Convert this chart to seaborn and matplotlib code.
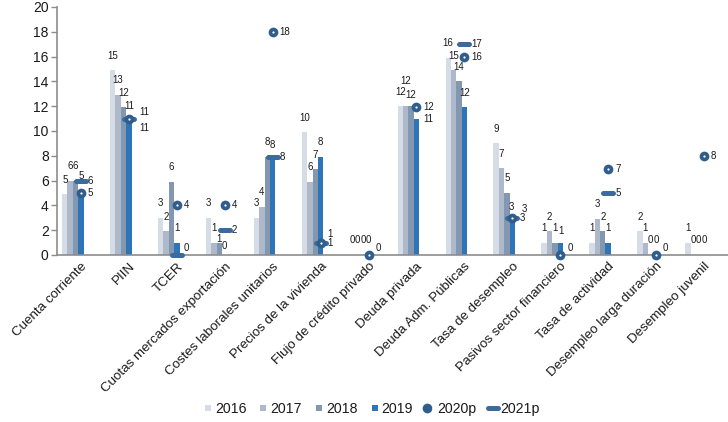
import numpy as np
import pandas as pd
import seaborn as sns
import matplotlib
matplotlib.use("Agg")
import matplotlib.pyplot as plt
from matplotlib.lines import Line2D
from matplotlib.markers import MarkerStyle
from matplotlib.legend_handler import HandlerTuple

categories = ["Cuenta corriente", "PIIN", "TCER", "Cuotas mercados exportación",
              "Costes laborales unitarios", "Precios de la vivienda",
              "Flujo de crédito privado", "Deuda privada", "Deuda Adm. Públicas",
              "Tasa de desempleo", "Pasivos sector financiero", "Tasa de actividad",
              "Desempleo larga duración", "Desempleo juvenil"]
nan = np.nan
v2016 = [4.9, 14.9, 3.0, 3.0, 3.0, 9.9, 0, 12.0, 15.9, 9.0, 1.0, 1.0, 1.9, 1.0]
v2017 = [6.0, 12.9, 1.9, 1.0, 3.9, 5.9, 0, 12.0, 14.9, 7.0, 1.9, 2.9, 1.0, 0]
v2018 = [6.0, 11.9, 5.9, 1.0, 7.9, 6.9, 0, 12.0, 14.0, 5.0, 1.0, 1.9, 0, 0]
v2019 = [5.2, 10.8, 1.0, 0, 7.7, 7.9, 0, 11.0, 11.9, 2.7, 1.0, 1.0, 0, 0]
v2020p = [5.0, 11.0, 4.0, 4.0, 18.0, 1.0, 0, 11.9, 16.0, 3.0, 0, 6.9, 0, 8.0]
v2021p = [6.0, 11.0, 0, 2.0, 7.9, 1.0, nan, nan, 17.0, 3.0, nan, 5.0, nan, nan]
bar_years = ["2016", "2017", "2018", "2019"]
line_years = ["2020p", "2021p"]
y_ticks = [0, 2, 4, 6, 8, 10, 12, 14, 16, 18, 20]

# small label nudges (pixels, +y = up) to mimic the reference's label arrangement
label_nudge = {
    ("Deuda privada", "2017"): (0, 11),
    ("Deuda privada", "2018"): (0, -3),
    ("Deuda privada", "2019"): (12, -15),
    ("Cuotas mercados exportación", "2018"): (0, -11),
    ("Cuotas mercados exportación", "2019"): (0, -6),
    ("PIIN", "2020p"): (3, -2),
    ("PIIN", "2021p"): (3, -9),
    ("Pasivos sector financiero", "2019"): (1, -3),
    ("Tasa de desempleo", "2019"): (-1, 0),
    ("Tasa de desempleo", "2020p"): (2, 0),
}

bar_colors = ["#D6DCE5", "#ADB9CA", "#8497B0", "#2E75B6"]
c20 = "#2F5D8C"
c21 = "#3A6A9E"
txt = "#1a1a1a"
spine_c = "#8C8C8C"
PX = 0.72  # points per pixel at dpi 100

sns.set_theme(style="white")
plt.rcParams["font.family"] = ["Liberation Sans", "DejaVu Sans"]

slots = bar_years + ["_s1", "_s2", "_s3"]
rows = []
for yr, vals in zip(bar_years, [v2016, v2017, v2018, v2019]):
    for c, v in zip(categories, vals):
        rows.append((c, yr, v))
df = pd.DataFrame(rows, columns=["cat", "year", "value"])

fig = plt.figure(figsize=(7.28, 4.22), dpi=100)
ax = fig.add_axes([57 / 728, 1 - 255 / 422, 671 / 728, 248 / 422])

sns.barplot(data=df, x="cat", y="value", hue="year", hue_order=slots, order=categories,
            palette=bar_colors + ["white"] * 3, width=0.7875, dodge=True,
            errorbar=None, legend=False, saturation=1, linewidth=0, ax=ax, zorder=2)

# bar labels
for yr, cont in zip(bar_years, ax.containers):
    for ci, bar in enumerate(cont):
        h = bar.get_height()
        if np.isnan(h):
            continue
        nx, ny = label_nudge.get((categories[ci], yr), (0, 0))
        ax.annotate(f"{h:.0f}", (bar.get_x() + bar.get_width() / 2, h),
                    xytext=(nx * PX, 10.5 + ny * PX), textcoords="offset points",
                    ha="center", va="center", fontsize=7, color=txt, zorder=7)

xs = np.arange(len(categories))
a20 = np.array(v2020p, dtype=float)
a21 = np.array(v2021p, dtype=float)
dash = MarkerStyle("_", capstyle="round")
ax.plot(xs, a21, ls="none", marker=dash, ms=6.5, mew=3.6, color=c21, zorder=4, clip_on=False)
ax.plot(xs, a20, ls="none", marker="o", ms=7, mew=0, color=c20, zorder=5, clip_on=False)
ax.plot(xs, a20, ls="none", marker="o", ms=1.6, mew=0, color="white", zorder=6, clip_on=False)

for i in range(len(categories)):
    p, q = a20[i], a21[i]
    same = (not np.isnan(p)) and (not np.isnan(q)) and abs(p - q) < 0.5
    if not np.isnan(p):
        dy = 9 if same else (7 if p == 0 else 0)
        nx, ny = label_nudge.get((categories[i], "2020p"), (0, 0))
        ax.annotate(f"{p:.0f}", (i, p), xytext=((7 + nx) * PX, (dy + ny) * PX),
                    textcoords="offset points", ha="left", va="center",
                    fontsize=7, color=txt, zorder=7)
    if not np.isnan(q):
        dy = 7 if q == 0 else 0
        nx, ny = label_nudge.get((categories[i], "2021p"), (0, 0))
        ax.annotate(f"{q:.0f}", (i, q), xytext=((7 + nx) * PX, (dy + ny) * PX),
                    textcoords="offset points", ha="left", va="center",
                    fontsize=7, color=txt, zorder=7)

ax.set_ylim(0, 20)
ax.set_xlim(-0.5, len(categories) - 0.5)
ax.set_yticks(y_ticks)
ax.set_yticklabels([str(t) for t in y_ticks], fontsize=10, color=txt)
ax.set_xticks(xs)
ax.set_xticklabels(categories, rotation=45, ha="right", rotation_mode="anchor",
                   fontsize=9.6, color=txt)
ax.set_xticks(np.arange(len(categories) + 1) - 0.5, minor=True)
ax.tick_params(axis="x", which="major", length=0, pad=4)
ax.tick_params(axis="x", which="minor", length=4, width=1, color=spine_c, direction="out")
ax.tick_params(axis="y", length=4, width=1, color=spine_c, direction="out", pad=2, left=True)
ax.set_xlabel("")
ax.set_ylabel("")
for s in ["top", "right"]:
    ax.spines[s].set_visible(False)
for s in ["left", "bottom"]:
    ax.spines[s].set_color(spine_c)
    ax.spines[s].set_linewidth(1.2)

handles = [Line2D([], [], ls="none", marker="s", ms=3.8, mew=0, color=c) for c in bar_colors]
h20 = (Line2D([], [], ls="none", marker="o", ms=7, mew=0, color=c20),
       Line2D([], [], ls="none", marker="o", ms=1.6, mew=0, color="white"))
h21 = Line2D([], [], ls="none", marker=dash, ms=6.5, mew=3.6, color=c21)
handles += [h20, h21]
labels = bar_years + line_years
fig.legend(handles, labels, ncol=6, loc="center", bbox_to_anchor=(371 / 728, 1 - 409 / 422),
           frameon=False, handlelength=0.8, handletextpad=0.1, columnspacing=0.8,
           fontsize=10.2, labelcolor=txt,
           handler_map={tuple: HandlerTuple(ndivide=None, pad=0)})

fig.savefig("out.png", dpi=100)
